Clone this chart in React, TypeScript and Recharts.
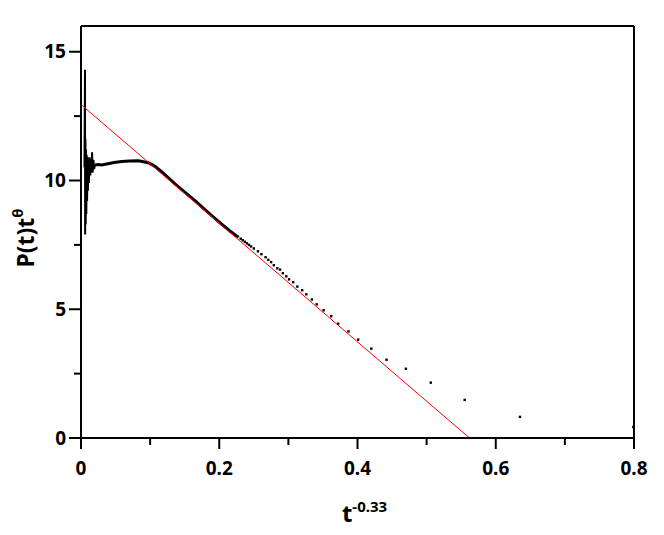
import React from 'react'
import {
  ComposedChart,
  Line,
  Scatter,
  XAxis,
  YAxis,
  ReferenceLine,
} from 'recharts'

// early, noisy part of the measured curve (x = t^-0.33)
const noiseX = [0.0050, 0.0058, 0.0060, 0.0064, 0.0068, 0.0072, 0.0077, 0.0082, 0.0088, 0.0094, 0.0100, 0.0108, 0.0115, 0.0125, 0.0135, 0.0145, 0.0155, 0.0160, 0.0168, 0.0180, 0.0190, 0.0203]
const noiseY = [10.5, 14.3, 7.9, 11.6, 8.3, 11.2, 8.7, 11.0, 9.2, 10.9, 9.6, 10.8, 9.9, 10.9, 10.2, 10.8, 10.4, 11.1, 10.3, 10.8, 10.45, 10.6]

// dense, smooth part
const curveX = [0.0203, 0.025, 0.030, 0.039, 0.048, 0.059, 0.070, 0.083, 0.0976, 0.107, 0.117, 0.136, 0.150, 0.165, 0.178, 0.192, 0.2014, 0.215, 0.228]
const curveY = [10.6, 10.62, 10.6, 10.65, 10.7, 10.74, 10.76, 10.77, 10.69, 10.55, 10.33, 9.87, 9.55, 9.22, 8.9, 8.57, 8.35, 8.05, 7.79]

// sparse points at late times
const dotX = [0.231, 0.234, 0.237, 0.240, 0.243, 0.246, 0.250, 0.256, 0.261, 0.267, 0.271, 0.275, 0.279, 0.284, 0.288, 0.292, 0.297, 0.301, 0.307, 0.313, 0.320, 0.326, 0.334, 0.341, 0.351, 0.362, 0.372, 0.387, 0.401, 0.420, 0.442, 0.470, 0.506, 0.555, 0.635, 0.799]
const dotY = [7.74, 7.68, 7.62, 7.56, 7.50, 7.44, 7.36, 7.25, 7.14, 7.02, 6.92, 6.83, 6.71, 6.59, 6.54, 6.40, 6.28, 6.16, 6.05, 5.88, 5.74, 5.58, 5.38, 5.19, 4.96, 4.73, 4.44, 4.14, 3.82, 3.47, 3.04, 2.69, 2.15, 1.48, 0.82, 0.43]

// linear fit
const fitX = [0, 0.562]
const fitY = [12.95, 0]

const xTicks = [0, 0.1, 0.2, 0.3, 0.4, 0.5, 0.6, 0.7, 0.8]
const yTicks = [0, 2.5, 5, 7.5, 10, 12.5, 15]

const zip = (xs: number[], ys: number[]) => xs.map((x, i) => ({ x, y: ys[i] }))

const noiseData = zip(noiseX, noiseY)
const curveData = zip(curveX, curveY)
const dotData = zip(dotX, dotY)
const fitData = zip(fitX, fitY)

const FONT = '"Noto Sans", "Open Sans", sans-serif'

function XTick({ x, y, payload }: any) {
  const major = Math.round(payload.value * 10) % 2 === 0
  return (
    <g>
      <line x1={x} x2={x} y1={y} y2={y + (major ? 11 : 7)} stroke="#000" strokeWidth={2} />
      {major && (
        <text x={x} y={y + 37} textAnchor="middle" fontFamily={FONT} fontWeight="bold" fontSize={19} fill="#000">
          {payload.value === 0 ? '0' : payload.value.toFixed(1)}
        </text>
      )}
    </g>
  )
}

function YTick({ x, y, payload }: any) {
  const major = payload.value % 5 === 0
  return (
    <g>
      <line x1={x} x2={x - (major ? 12 : 7)} y1={y} y2={y} stroke="#000" strokeWidth={2} />
      {major && (
        <text x={x - 15} y={y} dy="0.35em" textAnchor="end" fontFamily={FONT} fontWeight="bold" fontSize={19} fill="#000">
          {payload.value}
        </text>
      )}
    </g>
  )
}

function XLabel({ viewBox }: any) {
  const cx = viewBox.x + viewBox.width / 2 + 7
  return (
    <text x={cx} y={viewBox.y + 84} textAnchor="middle" fontFamily={FONT} fontWeight="bold" fontSize={24} fill="#000">
      t<tspan fontSize={15} dy={-10}>-0.33</tspan>
    </text>
  )
}

function YLabel({ viewBox }: any) {
  const cx = 17
  const cy = viewBox.y + viewBox.height / 2 + 6
  return (
    <text
      x={cx}
      y={cy}
      transform={`rotate(-90 ${cx} ${cy})`}
      textAnchor="middle"
      dominantBaseline="central"
      fontFamily={FONT}
      fontWeight="bold"
      fontSize={23}
      fill="#000"
    >
      P(t)t<tspan fontSize={15} dy={-8}>θ</tspan>
    </text>
  )
}

const Pixel = ({ cx, cy }: any) => <rect x={cx - 1.2} y={cy - 1.2} width={2.4} height={2.4} fill="#000" />

export default function App() {
  return (
    <ComposedChart width={640} height={520} margin={{ top: 18, right: 14, left: 0, bottom: 0 }}>
      <XAxis
        dataKey="x"
        type="number"
        domain={[0, 0.8]}
        ticks={xTicks}
        interval={0}
        tickSize={0}
        tickMargin={0}
        tick={<XTick />}
        axisLine={{ stroke: '#000', strokeWidth: 2 }}
        height={90}
        label={<XLabel />}
        allowDataOverflow
      />
      <YAxis
        dataKey="y"
        type="number"
        domain={[0, 16]}
        ticks={yTicks}
        interval={0}
        tickSize={0}
        tickMargin={0}
        tick={<YTick />}
        axisLine={{ stroke: '#000', strokeWidth: 2 }}
        width={73}
        label={<YLabel />}
        allowDataOverflow
      />
      <ReferenceLine y={16} stroke="#000" strokeWidth={2} />
      <ReferenceLine x={0.8} stroke="#000" strokeWidth={2} />
      <Line data={noiseData} dataKey="y" type="linear" stroke="#000" strokeWidth={2} dot={false} isAnimationActive={false} />
      <Line data={curveData} dataKey="y" type="linear" stroke="#000" strokeWidth={3} dot={false} isAnimationActive={false} />
      <Scatter data={dotData} dataKey="y" shape={<Pixel />} isAnimationActive={false} />
      <Line data={fitData} dataKey="y" type="linear" stroke="#ff0000" strokeWidth={1} dot={false} isAnimationActive={false} />
    </ComposedChart>
  )
}
